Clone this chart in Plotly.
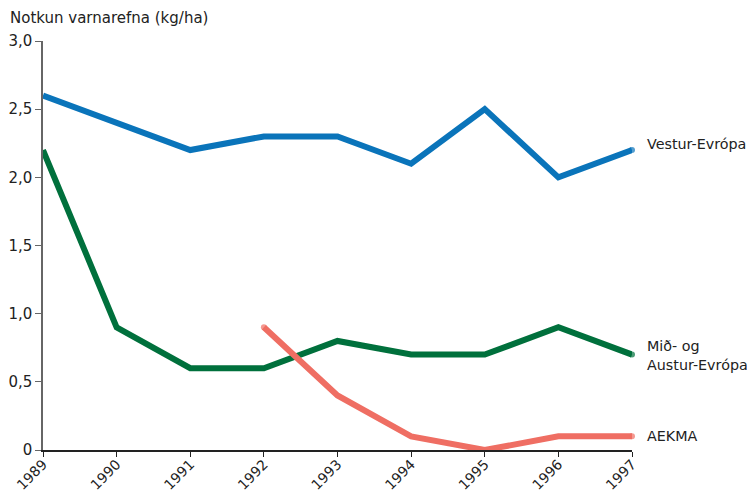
import plotly.graph_objects as go

years = [1989, 1990, 1991, 1992, 1993, 1994, 1995, 1996, 1997]
vestur = [2.6, 2.4, 2.2, 2.3, 2.3, 2.1, 2.5, 2.0, 2.2]
mid_austur = [2.2, 0.9, 0.6, 0.6, 0.8, 0.7, 0.7, 0.9, 0.7]
aekma = [None, None, None, 0.9, 0.4, 0.1, 0.0, 0.1, 0.1]

series_names = ["Vestur-Evrópa", "Mið- og<br>Austur-Evrópa", "AEKMA"]
series_values = [vestur, mid_austur, aekma]
colors = ["#0a74ba", "#00703c", "#ef6e63"]
label_yshift = [6, -1, 0]

ytick_vals = [0, 0.5, 1.0, 1.5, 2.0, 2.5, 3.0]
ytick_text = ["0", "0,5", "1,0", "1,5", "2,0", "2,5", "3,0"]

font_family = "DejaVu Sans, sans-serif"
LW = 6

# page body has an 8px margin; figure is sized to fit the 755x491 window
fig = go.Figure()
for name, vals, col, ys in zip(series_names, series_values, colors, label_yshift):
    # round caps at the free ends of each line
    first = next(i for i, v in enumerate(vals) if v is not None)
    sizes = [LW if (i == len(vals) - 1 or (i == first and i > 0)) else 0 for i in range(len(vals))]
    fig.add_trace(go.Scatter(
        x=years, y=vals, mode="lines+markers", name=name,
        line=dict(color=col, width=LW), cliponaxis=False,
        marker=dict(size=sizes, color=col, line=dict(width=0)),
        connectgaps=False,
    ))
    fig.add_annotation(x=years[-1], y=vals[-1], text=name, showarrow=False,
                       xanchor="left", yanchor="middle", xshift=13, yshift=ys, align="left",
                       font=dict(size=14.3, color="#222", family=font_family))

fig.add_annotation(x=0, y=1, xref="paper", yref="paper", text="Notkun varnarefna (kg/ha)",
                   showarrow=False, xanchor="left", yanchor="bottom", xshift=-35, yshift=12,
                   font=dict(size=15, color="#222", family=font_family))

fig.update_layout(
    width=747, height=483,
    margin=dict(l=35, r=123, t=33, b=41, autoexpand=False),
    paper_bgcolor="white", plot_bgcolor="white",
    showlegend=False,
    font=dict(family=font_family, size=14, color="#222"),
)
fig.update_xaxes(range=[1989, 1997], tickvals=years, ticktext=[str(y) for y in years],
                 tickangle=-45, ticks="outside", ticklen=5, tickcolor="#222",
                 ticklabelstandoff=-6,
                 showline=True, linecolor="#222", linewidth=1.5, showgrid=False,
                 zeroline=False, automargin=False, tickfont=dict(size=14, color="#222"))
fig.update_yaxes(range=[0, 3], tickvals=ytick_vals, ticktext=ytick_text,
                 ticks="outside", ticklen=6, tickcolor="#666",
                 showline=True, linecolor="#666", linewidth=1.5, showgrid=False,
                 zeroline=False, automargin=False, tickfont=dict(size=15, color="#222"))

fig.write_html("out.html")
